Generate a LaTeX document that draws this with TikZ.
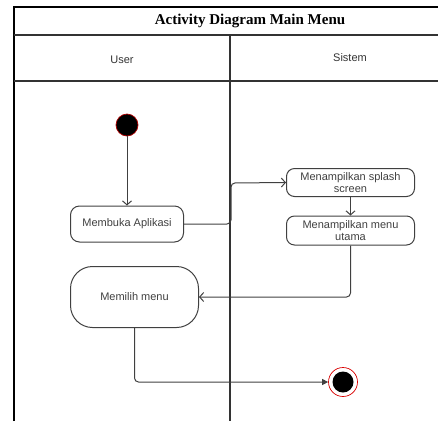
\documentclass[tikz,border=0pt]{standalone}
\usepackage{fontspec}
\setmainfont{Liberation Serif}
\setsansfont{Liberation Sans}
\usetikzlibrary{shapes,arrows,arrows.meta,positioning,calc}

\tikzset{
  act/.style={draw=black!75, rounded corners=9pt, align=center, font=\sffamily\fontsize{11}{11.5}\selectfont, text=black!75, inner sep=1pt},
  flow/.style={draw=black!75, rounded corners=4pt, -{Straight Barb[length=4pt,width=9pt]}},
}

\begin{document}
\begin{tikzpicture}[x=1pt,y=-1pt, line width=1pt]
  \useasboundingbox (0,0) rectangle (438,421);
  %swimlanes
  \draw[line width=1.8pt] (14,421) -- (14,7) -- (440,7);
  \draw[line width=1.3pt, black!80] (14,35) -- (440,35);
  \draw[line width=1.3pt, black!80] (14,81) -- (440,81);
  \draw[line width=1.3pt, black!80] (230,35) -- (230,421);
  \node (title) at (250,21) {\fontsize{15}{16}\selectfont\bfseries Activity Diagram Main Menu};
  \node[font=\sffamily\fontsize{11}{12}\selectfont, text=black!80] (user) at (122,60) {User};
  \node[font=\sffamily\fontsize{11}{12}\selectfont, text=black!80] (sistem) at (350,58) {Sistem};

  %nodes
  \node[circle, fill=black, draw=red!70!black, minimum size=22pt, inner sep=0pt, line width=0.7pt] (start) at (127,125) {};
  \node[act, minimum width=113pt, minimum height=36pt] (buka) at (127,224) {Membuka Aplikasi};
  \node[act, minimum width=128pt, minimum height=28pt, rounded corners=8pt] (splash) at (350.5,182.5) {Menampilkan splash\\screen};
  \node[act, minimum width=128pt, minimum height=29pt, rounded corners=8pt] (utama) at (350.5,230.5) {Menampilkan menu\\utama};
  \node[act, minimum width=128pt, minimum height=61pt, rounded corners=22pt] (pilih) at (134.5,297) {Memilih menu};
  \node[circle, draw=red!85!black, fill=white, minimum size=29pt, inner sep=0pt, line width=0.7pt] (end) at (343,382) {};
  \node[circle, fill=black, minimum size=21pt, inner sep=0pt] (endin) at (end) {};

  %edges
  \draw[flow] (start) -- (buka);
  \draw[flow] (buka.east) -| (231,183) -- (splash.west);
  \draw[flow] (splash) -- (utama);
  \draw[flow] (utama.south) |- (pilih.east);
  \draw[flow, -{Triangle[length=6pt,width=6pt]}] (pilih.south) |- (end.west);
\end{tikzpicture}
\end{document}
